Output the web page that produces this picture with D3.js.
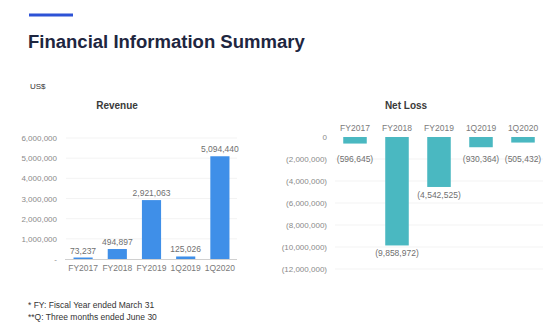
<!DOCTYPE html>
<html>
<head>
<meta charset="utf-8">
<script src="https://cdn.jsdelivr.net/npm/d3@7/dist/d3.min.js"></script>
<style>
  html, body { margin: 0; padding: 0; background: #fff; }
  svg { display: block; font-family: "Liberation Sans", Arial, sans-serif; }
</style>
</head>
<body>
<svg id="chart" width="550" height="332"></svg>
<script>
// Periods shown in both panels
const periods = ["FY2017", "FY2018", "FY2019", "1Q2019", "1Q2020"];
// Revenue in US$
const revenue = [73237, 494897, 2921063, 125026, 5094440];
// Net loss in US$ (negative values)
const netLoss = [-596645, -9858972, -4542525, -930364, -505432];
// Axis tick values
const revenueTicks = [0, 1000000, 2000000, 3000000, 4000000, 5000000, 6000000];
const lossTicks = [0, -2000000, -4000000, -6000000, -8000000, -10000000, -12000000];

const svg = d3.select("#chart");
const fmt = d3.format(",");
const fmtParen = v => v === 0 ? "0" : "(" + fmt(Math.abs(v)) + ")";

// Header
svg.append("rect").attr("x", 29).attr("y", 13.5).attr("width", 44).attr("height", 3)
  .attr("fill", "#2d52d6");
const title = svg.append("text").attr("x", 28).attr("y", 48)
  .attr("font-weight", "bold").attr("font-size", 20).attr("fill", "#1e2640")
  .text("Financial Information Summary");
const tw = title.node().getComputedTextLength();
title.attr("font-size", 20 * 277 / tw);

svg.append("text").attr("x", 30).attr("y", 89).attr("font-size", 8)
  .attr("fill", "#333").text("US$");

// ---- Revenue panel ----
const rx = d3.scaleBand().domain(periods).range([66, 237]).paddingInner(0.44).paddingOuter(0.22);
const ry = d3.scaleLinear().domain([0, 6000000]).range([259, 138]);

svg.append("text").attr("x", 117).attr("y", 108.5).attr("text-anchor", "middle")
  .attr("font-weight", "bold").attr("font-size", 10).attr("fill", "#3a3a3a").text("Revenue");

const rg = svg.append("g");
rg.selectAll("line.grid").data(revenueTicks.filter(t => t > 0)).join("line")
  .attr("x1", 66).attr("x2", 237).attr("y1", d => ry(d)).attr("y2", d => ry(d))
  .attr("stroke", "#f0f0f0").attr("stroke-width", 0.8);

const rAxis = rg.append("g").attr("transform", "translate(62,0)")
  .call(d3.axisLeft(ry).tickValues(revenueTicks).tickSize(0).tickPadding(5)
    .tickFormat(d => d === 0 ? "-" : fmt(d)));
rAxis.select(".domain").remove();
rAxis.selectAll("text").attr("font-size", 8).attr("fill", "#8a8a8a")
  .attr("font-family", "Liberation Sans, Arial, sans-serif");

rg.selectAll("rect.bar").data(periods).join("rect")
  .attr("x", d => rx(d)).attr("width", rx.bandwidth())
  .attr("y", (d, i) => ry(revenue[i])).attr("height", (d, i) => ry(0) - ry(revenue[i]))
  .attr("fill", "#3f8fe8");

rg.append("line").attr("x1", 65).attr("x2", 237).attr("y1", 259.5).attr("y2", 259.5)
  .attr("stroke", "#d0d0d0").attr("stroke-width", 1);

rg.selectAll("text.val").data(periods).join("text")
  .attr("x", d => rx(d) + rx.bandwidth() / 2).attr("y", (d, i) => ry(revenue[i]) - 4)
  .attr("text-anchor", "middle").attr("font-size", 8.5).attr("fill", "#6f6f6f")
  .text((d, i) => fmt(revenue[i]));

rg.selectAll("text.cat").data(periods).join("text")
  .attr("x", d => rx(d) + rx.bandwidth() / 2).attr("y", 271)
  .attr("text-anchor", "middle").attr("font-size", 8.5).attr("fill", "#7a7a7a")
  .text(d => d);

// ---- Net loss panel ----
const lx = d3.scaleBand().domain(periods).range([334, 544]).paddingInner(0.44).paddingOuter(0.22);
const ly = d3.scaleLinear().domain([-12000000, 0]).range([269, 137]);

svg.append("text").attr("x", 406).attr("y", 108.5).attr("text-anchor", "middle")
  .attr("font-weight", "bold").attr("font-size", 10).attr("fill", "#3a3a3a").text("Net Loss");

const lg = svg.append("g");
lg.selectAll("line.grid").data(lossTicks.filter(t => t < 0)).join("line")
  .attr("x1", 335).attr("x2", 543).attr("y1", d => ly(d)).attr("y2", d => ly(d))
  .attr("stroke", "#f0f0f0").attr("stroke-width", 0.8);

const lAxis = lg.append("g").attr("transform", "translate(332,0)")
  .call(d3.axisLeft(ly).tickValues(lossTicks).tickSize(0).tickPadding(5).tickFormat(fmtParen));
lAxis.select(".domain").remove();
lAxis.selectAll("text").attr("font-size", 8).attr("fill", "#8a8a8a")
  .attr("font-family", "Liberation Sans, Arial, sans-serif");

lg.selectAll("rect.bar").data(periods).join("rect")
  .attr("x", d => lx(d)).attr("width", lx.bandwidth())
  .attr("y", ly(0)).attr("height", (d, i) => ly(netLoss[i]) - ly(0))
  .attr("fill", "#4ab8c1");

lg.selectAll("text.cat").data(periods).join("text")
  .attr("x", d => lx(d) + lx.bandwidth() / 2).attr("y", 131)
  .attr("text-anchor", "middle").attr("font-size", 8.5).attr("fill", "#7a7a7a")
  .text(d => d);

lg.selectAll("text.val").data(periods).join("text")
  .attr("x", d => lx(d) + lx.bandwidth() / 2)
  .attr("y", (d, i) => Math.max(ly(netLoss[i]) + 11, 162))
  .attr("text-anchor", "middle").attr("font-size", 8.5).attr("fill", "#6f6f6f")
  .text((d, i) => fmtParen(netLoss[i]));

// Footnotes
svg.append("text").attr("x", 28).attr("y", 308).attr("font-size", 8.5).attr("fill", "#333")
  .text("* FY: Fiscal Year ended March 31");
svg.append("text").attr("x", 28).attr("y", 320).attr("font-size", 8.5).attr("fill", "#333")
  .text("**Q: Three months ended June 30");
</script>
</body>
</html>
